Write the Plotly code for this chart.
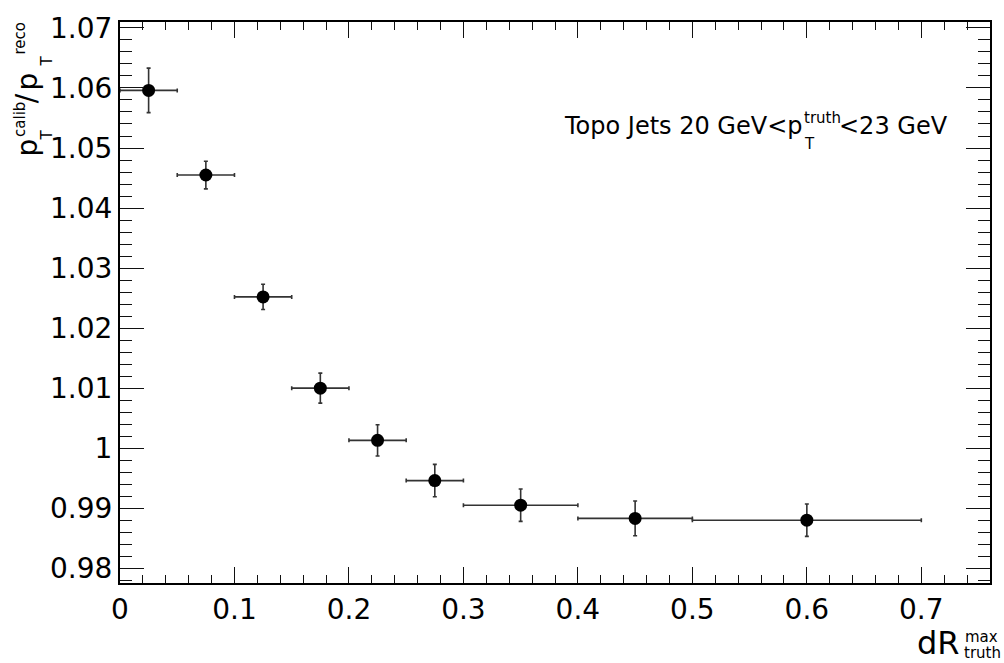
import plotly.graph_objects as go

# ---- data ----
bin_low = [0.0, 0.05, 0.10, 0.15, 0.20, 0.25, 0.30, 0.40, 0.50]
bin_high = [0.05, 0.10, 0.15, 0.20, 0.25, 0.30, 0.40, 0.50, 0.70]
ratio = [1.0596, 1.0455, 1.0252, 1.0100, 1.0013, 0.9946, 0.9905, 0.9883, 0.9880]
ratio_err = [0.0037, 0.0023, 0.0021, 0.0025, 0.0026, 0.0027, 0.0027, 0.0029, 0.0027]

# axis tick settings (first major tick, major step, minor step)
x_tick0, x_dtick, x_minor_dtick = 0.0, 0.1, 0.02
y_tick0, y_dtick, y_minor_dtick = 0.98, 0.01, 0.002
x_range = [0.0, 0.76]
y_range = [0.97754, 1.07099]

x_center = [(a + b) / 2 for a, b in zip(bin_low, bin_high)]
x_half = [(b - a) / 2 for a, b in zip(bin_low, bin_high)]

FONT = "DejaVu Sans"
W, H = 1004, 663
L, R, T, B = 120, 14, 14, 80
PW, PH = W - L - R, H - T - B

fig = go.Figure()
fig.add_trace(go.Scatter(
    x=x_center, y=ratio, mode="markers",
    marker=dict(color="black", size=13, symbol="circle"),
    error_x=dict(type="data", array=x_half, visible=True, color="#333333", thickness=1.6, width=2),
    error_y=dict(type="data", array=ratio_err, visible=True, color="#333333", thickness=1.6, width=2),
    showlegend=False,
))


def px(xp):
    return (xp - L) / PW


def py(yp):
    return (H - B - yp) / PH


annots = []


def add(text, xp, yp, size, angle=0, xanchor="center", yanchor="middle"):
    annots.append(dict(text=text, x=px(xp), y=py(yp), xref="paper", yref="paper",
                       showarrow=False, textangle=angle, xanchor=xanchor, yanchor=yanchor,
                       font=dict(family=FONT, size=size, color="black")))


# y axis title: p_T^calib / p_T^reco (stacked sub/superscripts)
add("p", 27.3, 141, 28, -90)
add("T", 47, 129, 15, -90)
add("calib", 19.8, 112.5, 15, -90)
add("/", 27.3, 91, 28, -90)
add("p", 27.3, 74, 28, -90)
add("T", 47, 54, 15, -90)
add("reco", 19.8, 30, 15, -90)

# x axis title: dR_truth^max
add("dR", 938, 644, 32)
add("max", 981.5, 638, 15)
add("truth", 982, 654, 15)

# label
add("Topo Jets 20 GeV&lt;p", 805, 119, 24, xanchor="right")
add("T", 809, 138, 15)
add("truth", 822, 111, 15)
add("&lt;23 GeV", 837, 119, 24, xanchor="left")

axis_common = dict(
    showgrid=False, zeroline=False, showline=True, linecolor="black", linewidth=2,
    mirror="ticks", ticks="inside", tickcolor="#111111", tickwidth=1.3,
    tickfont=dict(family=FONT, size=28, color="black"),
    tickmode="linear",
)

fig.update_layout(
    xaxis=dict(range=x_range, tick0=x_tick0, dtick=x_dtick, ticklen=16,
               minor=dict(ticks="inside", dtick=x_minor_dtick, ticklen=8, tickwidth=1.3,
                          tickcolor="#111111"),
               **axis_common),
    yaxis=dict(range=y_range, tick0=y_tick0, dtick=y_dtick, ticklen=24,
               minor=dict(ticks="inside", dtick=y_minor_dtick, ticklen=12, tickwidth=1.3,
                          tickcolor="#111111"),
               **axis_common),
    width=W, height=H,
    margin=dict(l=L, r=R, t=T, b=B, pad=0),
    plot_bgcolor="white", paper_bgcolor="white",
    annotations=annots,
    showlegend=False,
)

fig.write_html("out.html")
